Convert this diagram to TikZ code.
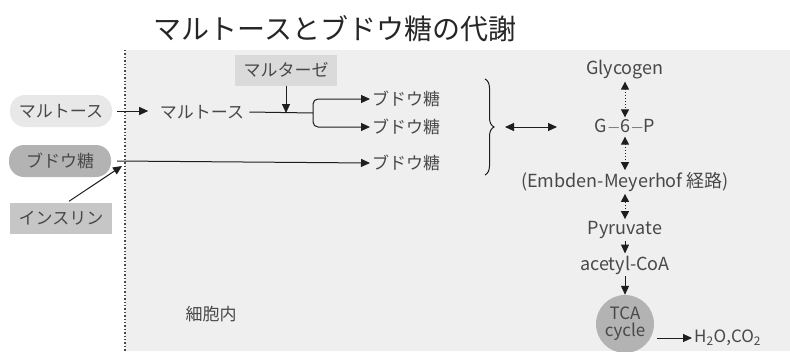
\documentclass[tikz,border=0pt]{standalone}
\usepackage{fontspec}
\setmainfont{Noto Sans CJK JP}
\usetikzlibrary{arrows.meta,decorations.pathreplacing}
\definecolor{bgcol}{HTML}{EFEFEF}
\definecolor{txtcol}{HTML}{484848}
\definecolor{lncol}{HTML}{1E1E1E}
\definecolor{pilla}{HTML}{E8E8E8}
\definecolor{pillb}{HTML}{B3B3B3}
\definecolor{boxa}{HTML}{C6C6C6}
\definecolor{boxb}{HTML}{DADADA}
\tikzset{
  lbl/.style={text=txtcol, font=\fontsize{17}{19}\selectfont, inner sep=2pt},
  pill/.style={lbl, rounded corners=15pt, minimum width=102pt, minimum height=32pt, inner sep=0pt},
  gbox/.style={lbl, minimum width=102pt, minimum height=31pt, inner sep=0pt},
  arr/.style={-{Triangle[length=9pt,width=8pt]}, line width=1pt, draw=lncol},
  darr/.style={{Triangle[length=8pt,width=8pt]}-{Triangle[length=8pt,width=8pt]}, dotted, line width=1pt, draw=lncol}
}
\begin{document}
\begin{tikzpicture}[x=1pt,y=-1pt]
				\useasboundingbox (0,0) rectangle (790,351);
				% 背景与细胞膜
				\fill[bgcol] (125,50) rectangle (790,351);
				\draw[txtcol, line width=1.4pt, dotted] (125,50) -- (125,351);
				% 标题
				\node[text=black!85, font=\fontsize{28}{30}\selectfont] (title) at (335,29) {マルトースとブドウ糖の代謝};
				% 细胞外
				\node[pill, fill=pilla] (mt1) at (61,111) {マルトース};
				\node[pill, fill=pillb] (glc0) at (60,161) {ブドウ糖};
				\node[gbox, fill=boxa] (ins) at (61,218) {インスリン};
				% 细胞内
				\node[lbl] (mt2) at (202,112) {マルトース};
				\node[gbox, fill=boxb] (mase) at (286,70) {マルターゼ};
				\node[lbl, anchor=west] (glc1) at (370,99) {ブドウ糖};
				\node[lbl, anchor=west] (glc2) at (370,127) {ブドウ糖};
				\node[lbl, anchor=west] (glc3) at (370,163) {ブドウ糖};
				\node[lbl] (cell) at (211,314) {細胞内};
				\coordinate (fork) at (313,113);
				\coordinate (gate) at (122,166);
				% 箭头
				\draw[arr] (mt1.east) ++(5,0) -- ++(31,0);
				\draw[lncol, line width=1pt] (mt2.east) ++(3,0) -- (fork);
				\draw[arr] (mase) -- (mase |- fork);
				\draw[arr, rounded corners=5pt] (fork) |- (glc1.west);
				\draw[arr, rounded corners=5pt] (fork) |- (glc2.west);
				\draw[arr] (glc0.east) ++(6,0) -- (glc3.west);
				\draw[arr] (ins.north) ++(8,-1) -- (gate);
				% 括号
				\draw[lncol, line width=1pt, decorate, decoration={brace, amplitude=9pt}] (485,79) -- (485,175);
				\coordinate (ba) at (505,127);
				\coordinate (bb) at (557,127);
				\draw[arr, {Triangle[length=9pt,width=8pt]}-{Triangle[length=9pt,width=8pt]}] (ba) -- (bb);
				% 糖代谢
				\node[lbl, font=\fontsize{18}{20}\selectfont] (glycogen) at (625,70) {Glycogen};
				\node[lbl, font=\fontsize{18}{20}\selectfont] (g6p) at (625,127) {G$-$6$-$P};
				\node[lbl, font=\fontsize{18}{20}\selectfont] (emp) at (625,182) {(Embden-Meyerhof 経路)};
				\node[lbl, font=\fontsize{18}{20}\selectfont] (pyr) at (625,230) {Pyruvate};
				\node[lbl, font=\fontsize{18}{20}\selectfont] (acoa) at (625,265) {acetyl-CoA};
				\node[circle, fill=pillb, minimum size=58pt, inner sep=0pt, align=center, text=txtcol, font=\fontsize{17}{17}\selectfont] (tca) at (625,324) {TCA\\cycle};
				\node[lbl, anchor=west] (prod) at (692,338) {H\textsubscript{2}O,CO\textsubscript{2}};
				\draw[darr] (glycogen) -- (g6p);
				\draw[darr] (g6p) -- (emp);
				\draw[darr] (emp) -- (pyr);
				\draw[arr] (pyr) -- (acoa);
				\draw[arr] (acoa) -- (tca);
				\draw[arr] (tca.east |- prod) ++(3,0) -- (prod.west);
			\end{tikzpicture}
\end{document}
